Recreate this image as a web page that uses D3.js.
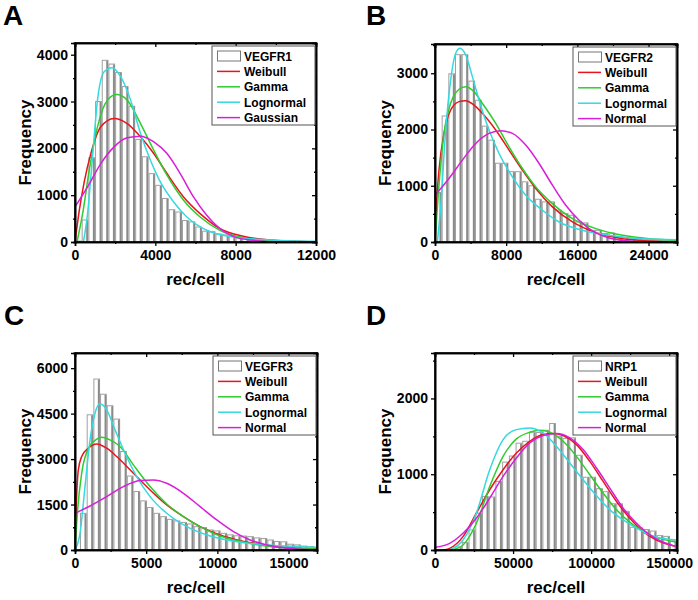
<!DOCTYPE html>
<html><head><meta charset="utf-8">
<script src="https://cdn.jsdelivr.net/npm/d3@7"></script>
<style>
html,body{margin:0;padding:0;background:#fff;}
svg{display:block;}
text{font-family:"Liberation Sans",Arial,sans-serif;font-weight:bold;fill:#000;}
</style></head>
<body>
<svg id="chart" width="698" height="600"></svg>
<script>
// ---------------- DATA ----------------
const panelLetters = ["A", "B", "C", "D"];
const histNames = ["VEGFR1", "VEGFR2", "VEGFR3", "NRP1"];
const fitNamesA = ["Weibull", "Gamma", "Lognormal", "Gaussian"];
const fitNamesBCD = ["Weibull", "Gamma", "Lognormal", "Normal"];
const xTitle = "rec/cell";
const yTitle = "Frequency";

// axis domains & tick labels
const xTicksA = [0, 4000, 8000, 12000];
const yTicksA = [0, 1000, 2000, 3000, 4000];
const xTicksB = [0, 8000, 16000, 24000];
const yTicksB = [0, 1000, 2000, 3000];
const xTicksC = [0, 5000, 10000, 15000];
const yTicksC = [0, 1500, 3000, 4500, 6000];
const xTicksD = [0, 50000, 100000, 150000];
const yTicksD = [0, 1000, 2000];
const xMaxA = 12000, yMaxA = 4250;
const xMaxB = 27200, yMaxB = 3520;
const xMaxC = 17000, yMaxC = 6500;
const xMaxD = 155000, yMaxD = 2600;

// histogram bins (first bin start, bin width, counts)
const binStartA = 0, binWidthA = 333;
const histA = [20, 470, 1800, 3000, 3880, 3800, 3620, 3320, 2900, 2190, 1820, 1460, 1210, 930, 690, 640, 460, 430,
  320, 230, 220, 170, 150, 130, 110, 90, 70, 55, 50, 40, 30, 25, 20, 15, 10, 10];
const binStartB = 0, binWidthB = 750;
const histB = [880, 2240, 2990, 3330, 3330, 2860, 2520, 2060, 1810, 1400, 1400, 1250, 1250, 1070, 1000, 760, 713, 713,
  565, 505, 475, 356, 340, 208, 208, 150, 160, 90, 80, 60, 50, 40, 30, 30, 20, 20];
const binStartC = 350, binWidthC = 470;
const histC = [1210, 4460, 5640, 5140, 4760, 4320, 3250, 2440, 1930, 1620, 1400, 1210, 1100, 1010, 960, 910, 860, 770,
  740, 660, 630, 550, 500, 470, 460, 440, 400, 380, 330, 280, 270, 190, 170, 130, 110, 80];
const binStartD = 0, binWidthD = 4300;
const histD = [0, 0, 10, 40, 100, 265, 486, 706, 700, 905, 1160, 1240, 1410, 1435, 1555, 1550, 1580, 1670, 1500, 1470,
  1480, 1250, 960, 960, 810, 770, 610, 610, 510, 300, 290, 270, 250, 190, 180, 120];

// fitted curves: [rec/cell, frequency]
const weibullA = [[0,0],[214,677],[460,1283],[790,1890],[1285,2460],[1945,2640],[2600,2530],[3263,2246],[3922,1890],[4580,1462],[5405,963],[6230,606],[7218,285],[8372,121],[9855,36],[12000,0]];
const gammaA = [[100,0],[380,606],[709,1533],[1120,2460],[1615,3030],[2077,3151],[2600,3030],[3263,2530],[3922,1960],[4580,1426],[5405,891],[6230,535],[7218,250],[8372,93],[9855,21],[12000,0]];
const lognormA = [[420,0],[626,606],[873,1818],[1120,3030],[1450,3636],[1830,3722],[2275,3530],[2770,3030],[3263,2317],[3757,1747],[4250,1283],[4911,855],[5570,535],[6560,250],[7877,107],[9525,50],[12000,14]];
const gaussA = [[0,749],[626,1176],[1285,1675],[1945,2032],[2600,2225],[3263,2260],[3922,2139],[4580,1890],[5240,1462],[5900,963],[6560,570],[7218,285],[7877,121],[8866,36],[10350,0],[12000,0]];

const weibullB = [[0,0],[150,624],[450,1277],[1012,1930],[1763,2346],[2700,2495],[3450,2513],[4388,2435],[5325,2287],[6825,1990],[8325,1634],[9825,1277],[11325,950],[13200,624],[15450,356],[18075,166],[21075,59],[24075,18],[27200,0]];
const gammaB = [[0,0],[375,861],[1012,1930],[1763,2465],[2700,2715],[3450,2762],[4388,2673],[5325,2465],[6825,2109],[8325,1693],[9825,1307],[11325,980],[13200,683],[15450,416],[18075,238],[21075,119],[24075,59],[27200,30]];
const lognormB = [[262,0],[640,624],[1200,1990],[1763,2881],[2325,3356],[2810,3445],[3450,3326],[4200,2940],[4950,2525],[6075,1990],[7200,1574],[8700,1158],[10200,832],[12075,564],[13950,356],[16575,208],[19575,119],[23325,59],[27200,42]];
const normalB = [[0,832],[1575,1129],[3075,1455],[4575,1752],[6075,1930],[7388,1978],[8700,1930],[10200,1723],[11700,1396],[13200,1010],[14700,653],[16200,386],[17700,196],[19575,71],[21825,18],[24000,0],[27200,0]];

const weibullC = [[0,0],[70,1211],[234,2642],[469,3083],[938,3358],[1524,3501],[2227,3358],[2930,3083],[4102,2532],[5274,1982],[6446,1486],[7618,1101],[8790,771],[10196,495],[11603,308],[13244,165],[15119,77],[17000,44]];
const gammaC = [[0,0],[164,1211],[469,2532],[938,3358],[1524,3655],[1875,3721],[2461,3633],[3164,3413],[4102,2808],[5274,2092],[6446,1519],[7618,1101],[8790,771],[10196,462],[11603,286],[13244,143],[15119,66],[17000,33]];
const lognormC = [[0,0],[352,550],[703,2092],[1055,3633],[1406,4514],[1758,4822],[2227,4624],[2813,3963],[3516,3193],[4336,2422],[5274,1762],[6446,1211],[7852,771],[9493,462],[11368,275],[13478,165],[15822,110],[17000,88]];
const normalC = [[0,1211],[1055,1453],[2227,1762],[3399,2092],[4571,2290],[5508,2312],[6446,2202],[7618,1872],[8790,1431],[9962,991],[11134,606],[12305,330],[13478,165],[14884,55],[17000,0]];

const weibullD = [[5000,0],[9400,22],[17950,177],[26500,486],[35050,795],[43600,1060],[52140,1280],[60690,1435],[69240,1523],[75650,1536],[82060,1510],[90610,1391],[99160,1170],[107700,905],[116250,640],[124800,419],[133350,243],[141900,132],[155000,44]];
const gammaD = [[11000,0],[17950,66],[26500,353],[35050,839],[43600,1236],[52140,1466],[60690,1554],[67100,1580],[73510,1554],[82060,1435],[90610,1236],[99160,993],[107700,751],[116250,530],[126940,331],[137630,199],[155000,102]];
const lognormD = [[9400,0],[17950,132],[26500,486],[35050,1060],[43600,1457],[52140,1589],[60690,1611],[69240,1545],[77790,1369],[86330,1148],[94880,927],[103430,715],[111980,530],[120530,397],[131210,265],[141900,168],[155000,132]];
const normalD = [[0,35],[9400,88],[17950,221],[26500,419],[35050,684],[43600,971],[52140,1214],[60690,1413],[69240,1510],[77790,1536],[86330,1479],[94880,1325],[103430,1082],[111980,817],[120530,552],[129070,353],[137630,199],[146170,102],[155000,44]];

// ---------------- DRAW ----------------
const colors = ["#e8141c", "#2ecc2e", "#35d9e0", "#d81ed8"];
const svg = d3.select("#chart");

const panels = [
  {letter: panelLetters[0], name: histNames[0], fits: fitNamesA, L: 75, R: 316, T: 43, B: 242, lx: 3, ly: 25,
   xMax: xMaxA, yMax: yMaxA, xt: xTicksA, yt: yTicksA, xMinor: 2000, yMinor: 500,
   bs: binStartA, bw: binWidthA, hist: histA, curves: [weibullA, gammaA, lognormA, gaussA]},
  {letter: panelLetters[1], name: histNames[1], fits: fitNamesBCD, L: 435, R: 677, T: 44, B: 242, lx: 366, ly: 25,
   xMax: xMaxB, yMax: yMaxB, xt: xTicksB, yt: yTicksB, xMinor: 4000, yMinor: 500,
   bs: binStartB, bw: binWidthB, hist: histB, curves: [weibullB, gammaB, lognormB, normalB]},
  {letter: panelLetters[2], name: histNames[2], fits: fitNamesBCD, L: 75, R: 317, T: 353, B: 550, lx: 4, ly: 325,
   xMax: xMaxC, yMax: yMaxC, xt: xTicksC, yt: yTicksC, xMinor: 2500, yMinor: 750,
   bs: binStartC, bw: binWidthC, hist: histC, curves: [weibullC, gammaC, lognormC, normalC]},
  {letter: panelLetters[3], name: histNames[3], fits: fitNamesBCD, L: 435, R: 677, T: 353, B: 550, lx: 366, ly: 325,
   xMax: xMaxD, yMax: yMaxD, xt: xTicksD, yt: yTicksD, xMinor: 25000, yMinor: 500,
   bs: binStartD, bw: binWidthD, hist: histD, curves: [weibullD, gammaD, lognormD, normalD]}
];

panels.forEach((p, pi) => {
  const x = d3.scaleLinear().domain([0, p.xMax]).range([p.L, p.R]);
  const y = d3.scaleLinear().domain([0, p.yMax]).range([p.B, p.T]);
  const g = svg.append("g");
  const clipId = "clip" + pi;
  svg.append("clipPath").attr("id", clipId).append("rect")
    .attr("x", p.L).attr("y", p.T).attr("width", p.R - p.L).attr("height", p.B - p.T);

  // bars
  const bars = g.append("g").attr("clip-path", `url(#${clipId})`);
  const bw = x(p.bw) - x(0);
  p.hist.forEach((c, i) => {
    if (c <= 0) return;
    const x0 = x(p.bs + i * p.bw);
    bars.append("rect").attr("x", x0 + 0.5).attr("y", y(c))
      .attr("width", bw - 1).attr("height", y(0) - y(c))
      .attr("fill", "#fff").attr("stroke", "#a0a0a0").attr("stroke-width", 1);
    bars.append("rect").attr("x", x0 + bw - 2.2).attr("y", y(c) + 0.5)
      .attr("width", 1.8).attr("height", Math.max(0, y(0) - y(c) - 0.5))
      .attr("fill", "#8a8a8a");
  });

  // curves
  const line = d3.line().x(d => x(d[0])).y(d => y(d[1])).curve(d3.curveMonotoneX);
  const cg = g.append("g").attr("clip-path", `url(#${clipId})`);
  p.curves.forEach((c, ci) => {
    cg.append("path").attr("d", line(c)).attr("fill", "none")
      .attr("stroke", colors[ci]).attr("stroke-width", 1.5);
  });

  // axes
  const xMajor = p.xt, yMajor = p.yt;
  const xMinorT = d3.range(0, p.xMax + 1, p.xMinor).filter(v => !xMajor.includes(v));
  const yMinorT = d3.range(0, p.yMax + 1, p.yMinor).filter(v => !yMajor.includes(v));
  const fmt = d3.format("d");

  const bottom = g.append("g").attr("transform", `translate(0,${p.B})`)
    .call(d3.axisBottom(x).tickValues(xMajor).tickFormat(fmt).tickSize(4).tickPadding(4));
  g.append("g").attr("transform", `translate(0,${p.B})`)
    .call(d3.axisBottom(x).tickValues(xMinorT).tickFormat("").tickSize(2));
  const left = g.append("g").attr("transform", `translate(${p.L},0)`)
    .call(d3.axisLeft(y).tickValues(yMajor).tickFormat(fmt).tickSize(4).tickPadding(3));
  g.append("g").attr("transform", `translate(${p.L},0)`)
    .call(d3.axisLeft(y).tickValues(yMinorT).tickFormat("").tickSize(2));
  // top & right mirror axes, ticks inward
  g.append("g").attr("transform", `translate(0,${p.T})`)
    .call(d3.axisBottom(x).tickValues(xMajor).tickFormat("").tickSize(4));
  g.append("g").attr("transform", `translate(0,${p.T})`)
    .call(d3.axisBottom(x).tickValues(xMinorT).tickFormat("").tickSize(2));
  g.append("g").attr("transform", `translate(${p.R},0)`)
    .call(d3.axisLeft(y).tickValues(yMajor).tickFormat("").tickSize(4));
  g.append("g").attr("transform", `translate(${p.R},0)`)
    .call(d3.axisLeft(y).tickValues(yMinorT).tickFormat("").tickSize(2));

  g.selectAll(".domain").attr("stroke", "#000").attr("stroke-width", 1.6);
  g.selectAll(".tick line").attr("stroke", "#000").attr("stroke-width", 1.3);
  g.selectAll(".tick text").style("font-size", "14px").style("font-weight", "bold")
    .style("font-family", '"Liberation Sans", Arial, sans-serif');

  // frame (ensure closed)
  g.append("rect").attr("x", p.L).attr("y", p.T).attr("width", p.R - p.L).attr("height", p.B - p.T)
    .attr("fill", "none").attr("stroke", "#000").attr("stroke-width", 1.6);

  // titles
  g.append("text").attr("x", (p.L + p.R) / 2).attr("y", p.B + 43).attr("text-anchor", "middle")
    .style("font-size", "17px").text(xTitle);
  g.append("text").attr("transform", `translate(${p.L - 44},${(p.T + p.B) / 2}) rotate(-90)`)
    .attr("text-anchor", "middle").style("font-size", "17px").text(yTitle);
  g.append("text").attr("x", p.lx).attr("y", p.ly).style("font-size", "28px").text(p.letter);

  // legend
  const lgW = 103, lgH = 79;
  const lgX = p.R - 1 - lgW, lgY = p.T + 3;
  const lg = g.append("g");
  lg.append("rect").attr("x", lgX).attr("y", lgY).attr("width", lgW).attr("height", lgH)
    .attr("fill", "#fff").attr("stroke", "#555").attr("stroke-width", 1);
  const rowY = i => lgY + 10 + i * 15.4;
  lg.append("rect").attr("x", lgX + 5.5).attr("y", rowY(0) - 5).attr("width", 23).attr("height", 10)
    .attr("fill", "#fff").attr("stroke", "#777").attr("stroke-width", 1);
  lg.append("text").attr("x", lgX + 32).attr("y", rowY(0) + 4.5).style("font-size", "12px").text(p.name);
  p.fits.forEach((nm, i) => {
    lg.append("line").attr("x1", lgX + 5).attr("x2", lgX + 28).attr("y1", rowY(i + 1)).attr("y2", rowY(i + 1))
      .attr("stroke", colors[i]).attr("stroke-width", 1.5);
    lg.append("text").attr("x", lgX + 32).attr("y", rowY(i + 1) + 4.5).style("font-size", "12px").text(nm);
  });
});
</script>
</body></html>
